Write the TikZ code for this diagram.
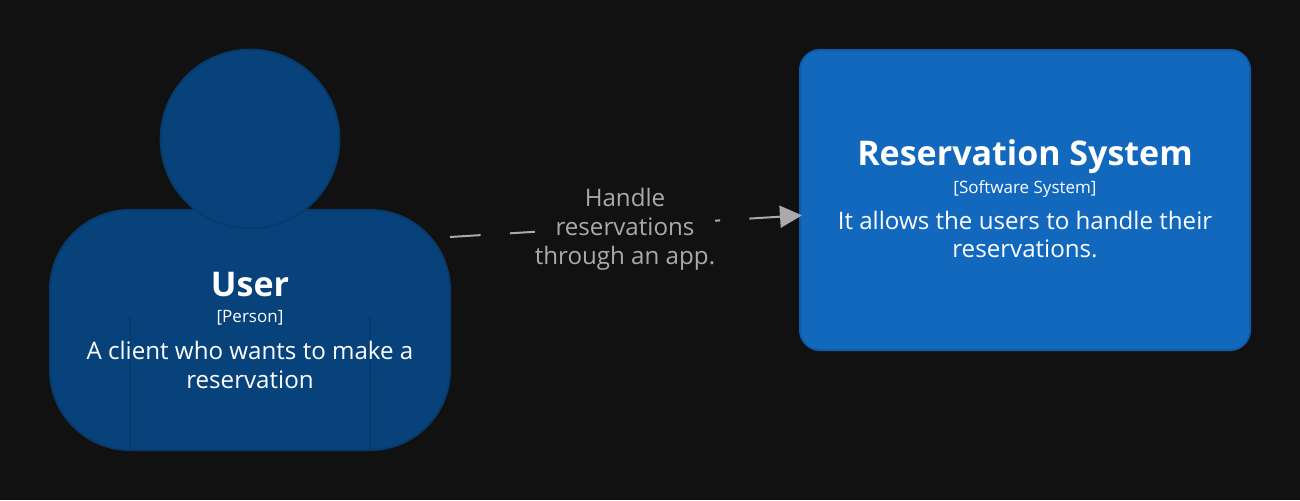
\documentclass[tikz,border=0pt]{standalone}
\usepackage{fontspec}
\setmainfont{Open Sans}
\usetikzlibrary{arrows.meta}
\definecolor{canvas}{HTML}{111111}
\definecolor{personfill}{HTML}{08427B}
\definecolor{personline}{HTML}{073B6E}
\definecolor{systemfill}{HTML}{1168BD}
\definecolor{systemline}{HTML}{0F5DAA}
\definecolor{linkgray}{HTML}{AAAAAA}

\begin{document}
\begin{tikzpicture}[x=0.75pt, y=-0.75pt,
    person/.style={draw=personline, fill=personfill, line width=1.5pt, inner sep=0pt, outer sep=0pt},
    system/.style={draw=systemline, fill=systemfill, line width=1.5pt, inner sep=0pt, outer sep=0pt, rounded corners=15pt, minimum width=337.5pt, minimum height=225pt},
    title/.style={text=white, font=\fontsize{25.5}{30}\selectfont\bfseries, anchor=base, inner sep=0pt},
    kind/.style={text=white, font=\fontsize{12.75}{15}\selectfont, anchor=base, inner sep=0pt},
    descr/.style={text=white, font=\fontsize{18.1}{21.75}\selectfont, anchor=base, align=center, inner sep=0pt},
    arrow/.style={-{Triangle[length=16.5pt, width=16.5pt]}, linkgray, line width=1.5pt, dash pattern=on 23pt off 22pt, shorten >=-1.5pt}]

    % canvas fixes the page size
    \fill[canvas] (0,0) rectangle (1300,500);

    % person: body, arms, head
    \node[person, rounded corners=60pt, minimum width=300pt, minimum height=180pt] (user) at (250,330) {};
    \draw[personline, line width=1pt] (130,316) -- (130,450);
    \draw[personline, line width=1pt] (370,316) -- (370,450);
    \node[person, circle, minimum size=134pt] (head) at (250,139) {};

    \node[title] (usertitle) at (250,296) {User};
    \node[kind] (userkind) at (250,322.5) {[Person]};
    \node[descr] (userdescr) at (250,359) {A client who wants to make a};
    \node[descr] (userdescrb) at (250,388) {reservation};

    % software system
    \node[system] (system) at (1025,200) {};
    \node[title] (systemtitle) at (1025,165.5) {Reservation System};
    \node[kind] (systemkind) at (1025,193) {[Software System]};
    \node[descr] (systemdescr) at (1025,229) {It allows the users to handle their};
    \node[descr] (systemdescrb) at (1025,257) {reservations.};

    % relationship, label sits on top of the dashes
    \draw[arrow] ([yshift=69.75pt]user.east) -- ([yshift=-11.6pt]system.west);
    \node[fill=canvas, text=linkgray, font=\fontsize{18.1}{21.75}\selectfont, align=center, inner sep=0pt, minimum width=135pt, minimum height=66pt] (link) at (625,229) {Handle\\reservations\\through an app.};
\end{tikzpicture}
\end{document}
